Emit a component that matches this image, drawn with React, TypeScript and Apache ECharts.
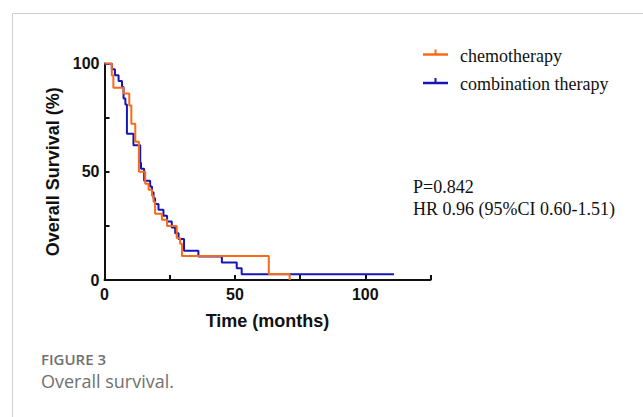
import React, { useEffect, useRef } from "react";
import * as echarts from "echarts";

// Kaplan–Meier step points: time (months) and survival (%)
const chemoTimes = [0, 2.8, 3.4, 7.3, 9.5, 10.3, 11.8, 13.2, 15.6, 16.9, 18.2, 18.8, 19.4, 22.0, 24.0, 27.7, 29.0, 29.7, 63.0, 71.0];
const chemoSurv = [100, 94.5, 88.8, 86.1, 80.6, 72.2, 63.9, 50.0, 44.4, 41.7, 38.9, 36.1, 30.6, 27.8, 25.0, 19.4, 16.7, 11.1, 2.8, 0];

const comboTimes = [0, 2.8, 4.0, 5.4, 6.7, 7.3, 8.0, 8.6, 11.1, 13.7, 14.0, 15.2, 17.5, 18.2, 18.8, 19.4, 20.7, 22.6, 24.0, 25.8, 27.1, 28.4, 30.5, 36.0, 45.0, 50.7, 52.6, 111.0];
const comboSurv = [100, 97.3, 94.6, 91.9, 89.2, 83.8, 81.1, 67.6, 62.2, 54.1, 51.4, 45.9, 43.2, 40.5, 37.8, 35.1, 32.4, 29.7, 27.0, 24.3, 21.6, 18.9, 13.5, 10.8, 8.1, 5.4, 2.7, 2.7];

const seriesNames = ["chemotherapy", "combination therapy"];
const xTicksLabelled = [0, 50, 100];
const yTicksLabelled = [0, 50, 100];
const statsLines = ["P=0.842", "HR 0.96 (95%CI 0.60-1.51)"];
const captionTitle = "FIGURE 3";
const captionText = "Overall survival.";

const ORANGE = "#FA6A16";
const BLUE = "#1616B8";
const SERIF = '18px "Liberation Serif", serif';

export default function App() {
  const ref = useRef<HTMLDivElement>(null);
  useEffect(() => {
    if (!ref.current) return;
    const chart = echarts.init(ref.current, null, { renderer: "svg" });
    const zip = (t: number[], s: number[]) => t.map((v, i) => [v, s[i]]);
    const legendItem = (name: string, color: string, y: number) => [
      { type: "line", shape: { x1: 423, y1: y, x2: 448, y2: y }, style: { stroke: color, lineWidth: 2.5 } },
      { type: "line", shape: { x1: 435.5, y1: y - 5, x2: 435.5, y2: y }, style: { stroke: color, lineWidth: 2 } },
      {
        type: "text",
        x: 460,
        y: y + 1,
        style: { text: name, fill: "#111", font: SERIF, textVerticalAlign: "middle" },
      },
    ];
    chart.setOption({
      animation: false,
      backgroundColor: "#fff",
      grid: { left: 104.5, right: 212.5, top: 63.5, bottom: 137, containLabel: false },
      xAxis: {
        type: "value",
        min: 0,
        max: 125,
        interval: 25,
        name: "Time (months)",
        nameLocation: "middle",
        nameGap: 32,
        nameTextStyle: { fontFamily: '"Liberation Sans", Arial, sans-serif', fontWeight: "bold", fontSize: 18, color: "#111" },
        axisLine: { lineStyle: { color: "#111", width: 2 } },
        axisTick: { inside: true, length: 5, lineStyle: { color: "#111", width: 2 } },
        axisLabel: {
          margin: 6,
          fontFamily: '"Liberation Sans", Arial, sans-serif',
          fontWeight: "bold",
          fontSize: 16,
          color: "#111",
          formatter: (v: number) => (xTicksLabelled.includes(v) ? String(v) : ""),
        },
        splitLine: { show: false },
      },
      yAxis: {
        type: "value",
        min: 0,
        max: 100,
        interval: 25,
        name: "Overall Survival (%)",
        nameLocation: "middle",
        nameGap: 33,
        nameTextStyle: { fontFamily: '"Liberation Sans", Arial, sans-serif', fontWeight: "bold", fontSize: 18, color: "#111" },
        axisLine: { show: true, lineStyle: { color: "#111", width: 2 } },
        axisTick: { show: true, inside: true, length: 5, lineStyle: { color: "#111", width: 2 } },
        axisLabel: {
          margin: 5,
          fontFamily: '"Liberation Sans", Arial, sans-serif',
          fontWeight: "bold",
          fontSize: 16,
          color: "#111",
          formatter: (v: number) => (yTicksLabelled.includes(v) ? String(v) : ""),
        },
        splitLine: { show: false },
      },
      series: [
        {
          name: seriesNames[1],
          type: "line",
          step: "end",
          data: zip(comboTimes, comboSurv),
          showSymbol: false,
          lineStyle: { color: BLUE, width: 2 },
          itemStyle: { color: BLUE },
        },
        {
          name: seriesNames[0],
          type: "line",
          step: "end",
          data: zip(chemoTimes, chemoSurv),
          showSymbol: false,
          lineStyle: { color: ORANGE, width: 2 },
          itemStyle: { color: ORANGE },
        },
      ],
      graphic: [
        { type: "line", shape: { x1: 12.5, y1: 13.5, x2: 643, y2: 13.5 }, style: { stroke: "#cfcfcf", lineWidth: 1 } },
        { type: "line", shape: { x1: 12.5, y1: 13.5, x2: 12.5, y2: 417 }, style: { stroke: "#cfcfcf", lineWidth: 1 } },
        ...legendItem(seriesNames[0], ORANGE, 54.5),
        ...legendItem(seriesNames[1], BLUE, 83),
        {
          type: "text",
          x: 413,
          y: 187,
          style: { text: statsLines[0], fill: "#111", font: SERIF, textVerticalAlign: "middle" },
        },
        {
          type: "text",
          x: 413,
          y: 209,
          style: { text: statsLines[1], fill: "#111", font: SERIF, textVerticalAlign: "middle" },
        },
        {
          type: "text",
          x: 41,
          y: 359,
          style: { text: captionTitle, fill: "#707070", font: '600 15px "Open Sans", sans-serif', textVerticalAlign: "middle" },
        },
        {
          type: "text",
          x: 41,
          y: 381,
          style: { text: captionText, fill: "#707070", font: '18px "Open Sans", sans-serif', textVerticalAlign: "middle" },
        },
      ],
    });
    return () => chart.dispose();
  }, []);
  return <div ref={ref} style={{ position: "absolute", left: 0, top: 0, width: 643, height: 417 }} />;
}
